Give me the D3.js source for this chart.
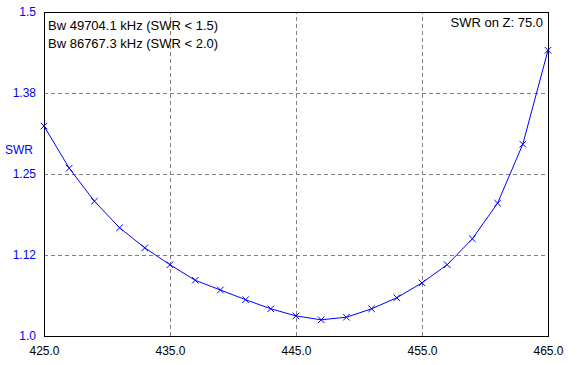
<!DOCTYPE html>
<html>
<head>
  <meta charset="utf-8">
  <title>SWR</title>
  <style>
    body { margin: 0; background: #ffffff; }
    svg { display: block; font-family: "Liberation Sans", Arial, sans-serif; font-size: 12px; }
    .grid line { stroke: #808080; stroke-dasharray: 4,3; }
    .grid .domain { display: none; }
    .note { font-size: 13px; }
  </style>
</head>
<body>
  <div id="chart"></div>

  <script src="https://d3js.org/d3.v7.min.js"></script>
  <script>
    // frequency (MHz) and SWR
    const freqs = [425, 427, 429, 431, 433, 435, 437, 439, 441, 443, 445,
                   447, 449, 451, 453, 455, 457, 459, 461, 463, 465];
    const swr = [1.324, 1.259, 1.208, 1.167, 1.136, 1.110, 1.086, 1.071, 1.056, 1.042, 1.031,
                 1.025, 1.029, 1.042, 1.059, 1.082, 1.110, 1.150, 1.205, 1.296, 1.441];

    const xTicks = [425, 435, 445, 455, 465];
    const yTicks = [1.0, 1.125, 1.25, 1.375, 1.5];
    const yTickLabels = ["1.0", "1.12", "1.25", "1.38", "1.5"];
    const infoLines = ["Bw 49704.1 kHz (SWR < 1.5)", "Bw 86767.3 kHz (SWR < 2.0)"];
    const zLabel = "SWR on Z: 75.0";

    const width = 583, height = 365;
    const margin = { top: 12, right: 35, bottom: 29, left: 44 };
    const w = width - margin.left - margin.right;
    const h = height - margin.top - margin.bottom;

    const svg = d3.select("#chart").append("svg")
      .attr("width", width)
      .attr("height", height);

    const g = svg.append("g")
      .attr("transform", `translate(${margin.left},${margin.top})`);

    const x = d3.scaleLinear().domain([425, 465]).range([0, w]);
    const y = d3.scaleLinear().domain([1.0, 1.5]).range([h, 0]);

    // dashed grid, inner lines only
    g.append("g")
      .attr("class", "grid")
      .attr("transform", `translate(0,${h})`)
      .call(d3.axisBottom(x).tickValues(xTicks.slice(1, -1)).tickSize(-h).tickFormat(""));

    g.append("g")
      .attr("class", "grid")
      .call(d3.axisLeft(y).tickValues(yTicks.slice(1, -1)).tickSize(-w).tickFormat(""));

    // frame
    g.append("rect")
      .attr("x", 0.5).attr("y", 0.5)
      .attr("width", w).attr("height", h)
      .attr("fill", "none")
      .attr("stroke", "#000")
      .attr("stroke-width", 1);

    // x axis labels
    const xAxis = g.append("g")
      .attr("transform", `translate(0,${h})`)
      .call(d3.axisBottom(x).tickValues(xTicks).tickSize(0).tickPadding(10).tickFormat(d3.format(".1f")));
    xAxis.select(".domain").remove();
    xAxis.selectAll("text").attr("fill", "#000").style("font-size", "12px").style("font-family", "inherit");

    // y axis labels
    const yAxis = g.append("g")
      .call(d3.axisLeft(y).tickValues(yTicks).tickSize(0).tickPadding(8)
        .tickFormat((d, i) => yTickLabels[i]));
    yAxis.select(".domain").remove();
    yAxis.selectAll("text").attr("fill", "#0000ff").style("font-size", "12px").style("font-family", "inherit");

    svg.append("text")
      .attr("x", 5)
      .attr("y", 154)
      .attr("fill", "#0000ff")
      .text("SWR");

    // curve
    const line = d3.line()
      .x((d, i) => x(freqs[i]))
      .y(d => y(d));

    g.append("path")
      .datum(swr)
      .attr("d", line)
      .attr("fill", "none")
      .attr("stroke", "#0000ff")
      .attr("stroke-width", 1);

    // x markers
    const cross = d3.symbol().type(d3.symbolX).size(30);
    g.selectAll(".pt")
      .data(swr)
      .join("path")
      .attr("class", "pt")
      .attr("transform", (d, i) => `translate(${x(freqs[i])},${y(d)})`)
      .attr("d", cross)
      .attr("fill", "none")
      .attr("stroke", "#0000ff")
      .attr("stroke-width", 1);

    // info text
    g.selectAll(".info")
      .data(infoLines)
      .join("text")
      .attr("class", "info note")
      .attr("x", 4)
      .attr("y", (d, i) => 18 + i * 18)
      .attr("fill", "#000")
      .text(d => d);

    g.append("text")
      .attr("class", "note")
      .attr("x", w - 5)
      .attr("y", 15)
      .attr("text-anchor", "end")
      .attr("fill", "#000")
      .text(zLabel);
  </script>
</body>
</html>
